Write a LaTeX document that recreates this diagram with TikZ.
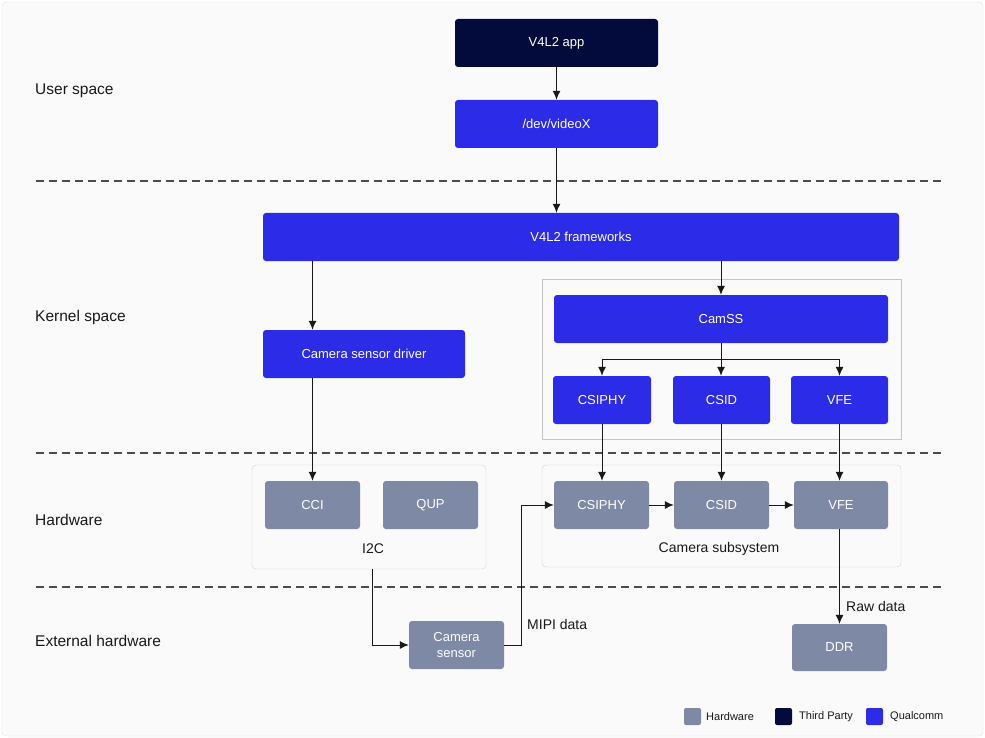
\documentclass[tikz,border=0pt]{standalone}
\usepackage{fontspec}
\setmainfont{Liberation Sans}
\usetikzlibrary{arrows.meta,calc}
\definecolor{qblue}{HTML}{2B2BE8}
\definecolor{qnavy}{HTML}{030A3C}
\definecolor{hwgray}{HTML}{7E89A5}
\definecolor{bgc}{HTML}{FAFAFA}
\definecolor{bgborder}{HTML}{DCDCE4}
\definecolor{contborder}{HTML}{C4C4C4}
\definecolor{contborderb}{HTML}{D0D0E0}
\begin{document}
\begin{tikzpicture}[x=1pt,y=-1pt,
  box/.style={rounded corners=3pt, inner sep=0pt, text=white, font=\fontsize{13}{15}\selectfont},
  qc/.style={box, fill=qblue},
  tp/.style={box, fill=qnavy},
  hw/.style={box, fill=hwgray},
  arr/.style={-{Latex[length=9pt,width=8pt]}, line width=1pt, draw=black!90},
  sepline/.style={dash pattern=on 8pt off 5pt, draw=black!70, line width=1.2pt},
  lbl/.style={font=\fontsize{15.5}{18}\selectfont, anchor=west, text=black!90, inner sep=0pt},
  sub/.style={font=\fontsize{14}{16}\selectfont, text=black!90, inner sep=0pt},
  legsq/.style={rounded corners=2pt, minimum width=17pt, minimum height=17pt, inner sep=0pt},
  legtx/.style={font=\fontsize{11}{13}\selectfont, anchor=west, inner sep=0pt, text=black!90}
]
\useasboundingbox (0,0) rectangle (985,738);
\draw[bgborder, fill=bgc, rounded corners=4pt] (2,2) rectangle (983,736);

% separators
\draw[sepline] (36,181) -- (942,181);
\draw[sepline] (36,453) -- (942,453);
\draw[sepline] (36,587) -- (942,587);

% section labels
\node[lbl] (lus) at (35,91) {User space};
\node[lbl] (lks) at (35,317) {Kernel space};
\node[lbl] (lhw) at (35,520) {Hardware};
\node[lbl] (lex) at (35,641) {External hardware};

% containers
\node[draw=contborder, fill=bgc, minimum width=359pt, minimum height=160pt, inner sep=0pt] (kcont) at (721.5,359) {};
\node[draw=contborderb, fill=bgc, rounded corners=4pt, minimum width=234pt, minimum height=104pt, inner sep=0pt] (i2c) at (369,517) {};
\node[draw=contborderb, fill=bgc, rounded corners=4pt, minimum width=359pt, minimum height=102pt, inner sep=0pt] (camsub) at (721.5,516) {};
\node[sub] (i2clbl) at (373,549) {I2C};
\node[sub] (camsublbl) at (719,549) {Camera subsystem};

% boxes
\node[tp, minimum width=203pt, minimum height=48pt] (app) at (556.5,43) {V4L2 app};
\node[qc, minimum width=203pt, minimum height=48pt] (dev) at (556.5,124) {/dev/videoX};
\node[qc, minimum width=636pt, minimum height=48pt] (fw) at (581,237) {V4L2 frameworks};
\node[qc, minimum width=334pt, minimum height=48pt] (camss) at (721,319) {CamSS};
\node[qc, minimum width=98pt, minimum height=48pt] (csiphyk) at (602,400) {CSIPHY};
\node[qc, minimum width=97pt, minimum height=48pt] (csidk) at (721.5,400) {CSID};
\node[qc, minimum width=97pt, minimum height=48pt] (vfek) at (839.5,400) {VFE};
\node[qc, minimum width=202pt, minimum height=48pt] (drv) at (364,354) {Camera sensor driver};

\node[hw, minimum width=95pt, minimum height=48pt] (cci) at (312.5,505) {CCI};
\node[hw, minimum width=95pt, minimum height=48pt] (qup) at (430.5,505) {QUP};
\node[hw, minimum width=95pt, minimum height=48pt] (csiphyh) at (601.5,505) {CSIPHY};
\node[hw, minimum width=95pt, minimum height=48pt] (csidh) at (721.5,505) {CSID};
\node[hw, minimum width=94pt, minimum height=48pt] (vfeh) at (841,505) {VFE};
\node[hw, minimum width=95pt, minimum height=48pt, align=center, font=\fontsize{13}{16}\selectfont] (cam) at (456.5,645) {Camera\\sensor};
\node[hw, minimum width=95pt, minimum height=47pt] (ddr) at (839.5,647.5) {DDR};

% connectors
\draw[arr] (app.south) -- (dev.north);
\draw[arr] (dev.south) -- (dev.south |- fw.north);
\draw[arr] (fw.south -| cci.north) -- (drv.north -| cci.north);
\draw[arr] (drv.south -| cci.north) -- (cci.north);
\draw[arr] (fw.south -| camss.north) -- (camss.north);
\coordinate (split) at ($(camss.south)!0.5!(csidk.north)$);
\draw[arr] (camss.south) -- (camss.south |- csidk.north);
\draw[arr] (split) -| (csiphyk.north);
\draw[arr] (split) -| (vfek.north);
\draw[arr] (csiphyk.south) -- (csiphyk.south |- csiphyh.north);
\draw[arr] (csidk.south) -- (csidk.south |- csidh.north);
\draw[arr] (vfek.south) -- (vfek.south |- vfeh.north);
\draw[arr] (csiphyh.east) -- (csidh.west);
\draw[arr] (csidh.east) -- (vfeh.west);
\draw[arr] ($(i2c.south)+(3,0)$) |- (cam.west);
\draw[arr] (cam.east) -- ++(17,0) |- (csiphyh.west);
\draw[arr] (vfeh.south -| ddr.north) -- (ddr.north);
\node[sub, anchor=west] (mipi) at (527,624) {MIPI data};
\node[sub, anchor=west] (raw) at (846,606) {Raw data};

% legend
\node[legsq, fill=hwgray] (lg1) at (692.5,716.5) {};
\node[legtx] (lt1) at (706,716.5) {Hardware};
\node[legsq, fill=qnavy] (lg2) at (783.5,716.5) {};
\node[legtx] (lt2) at (799,716.5) {Third Party};
\node[legsq, fill=qblue] (lg3) at (874.5,716.5) {};
\node[legtx] (lt3) at (890,716.5) {Qualcomm};
\end{tikzpicture}
\end{document}
